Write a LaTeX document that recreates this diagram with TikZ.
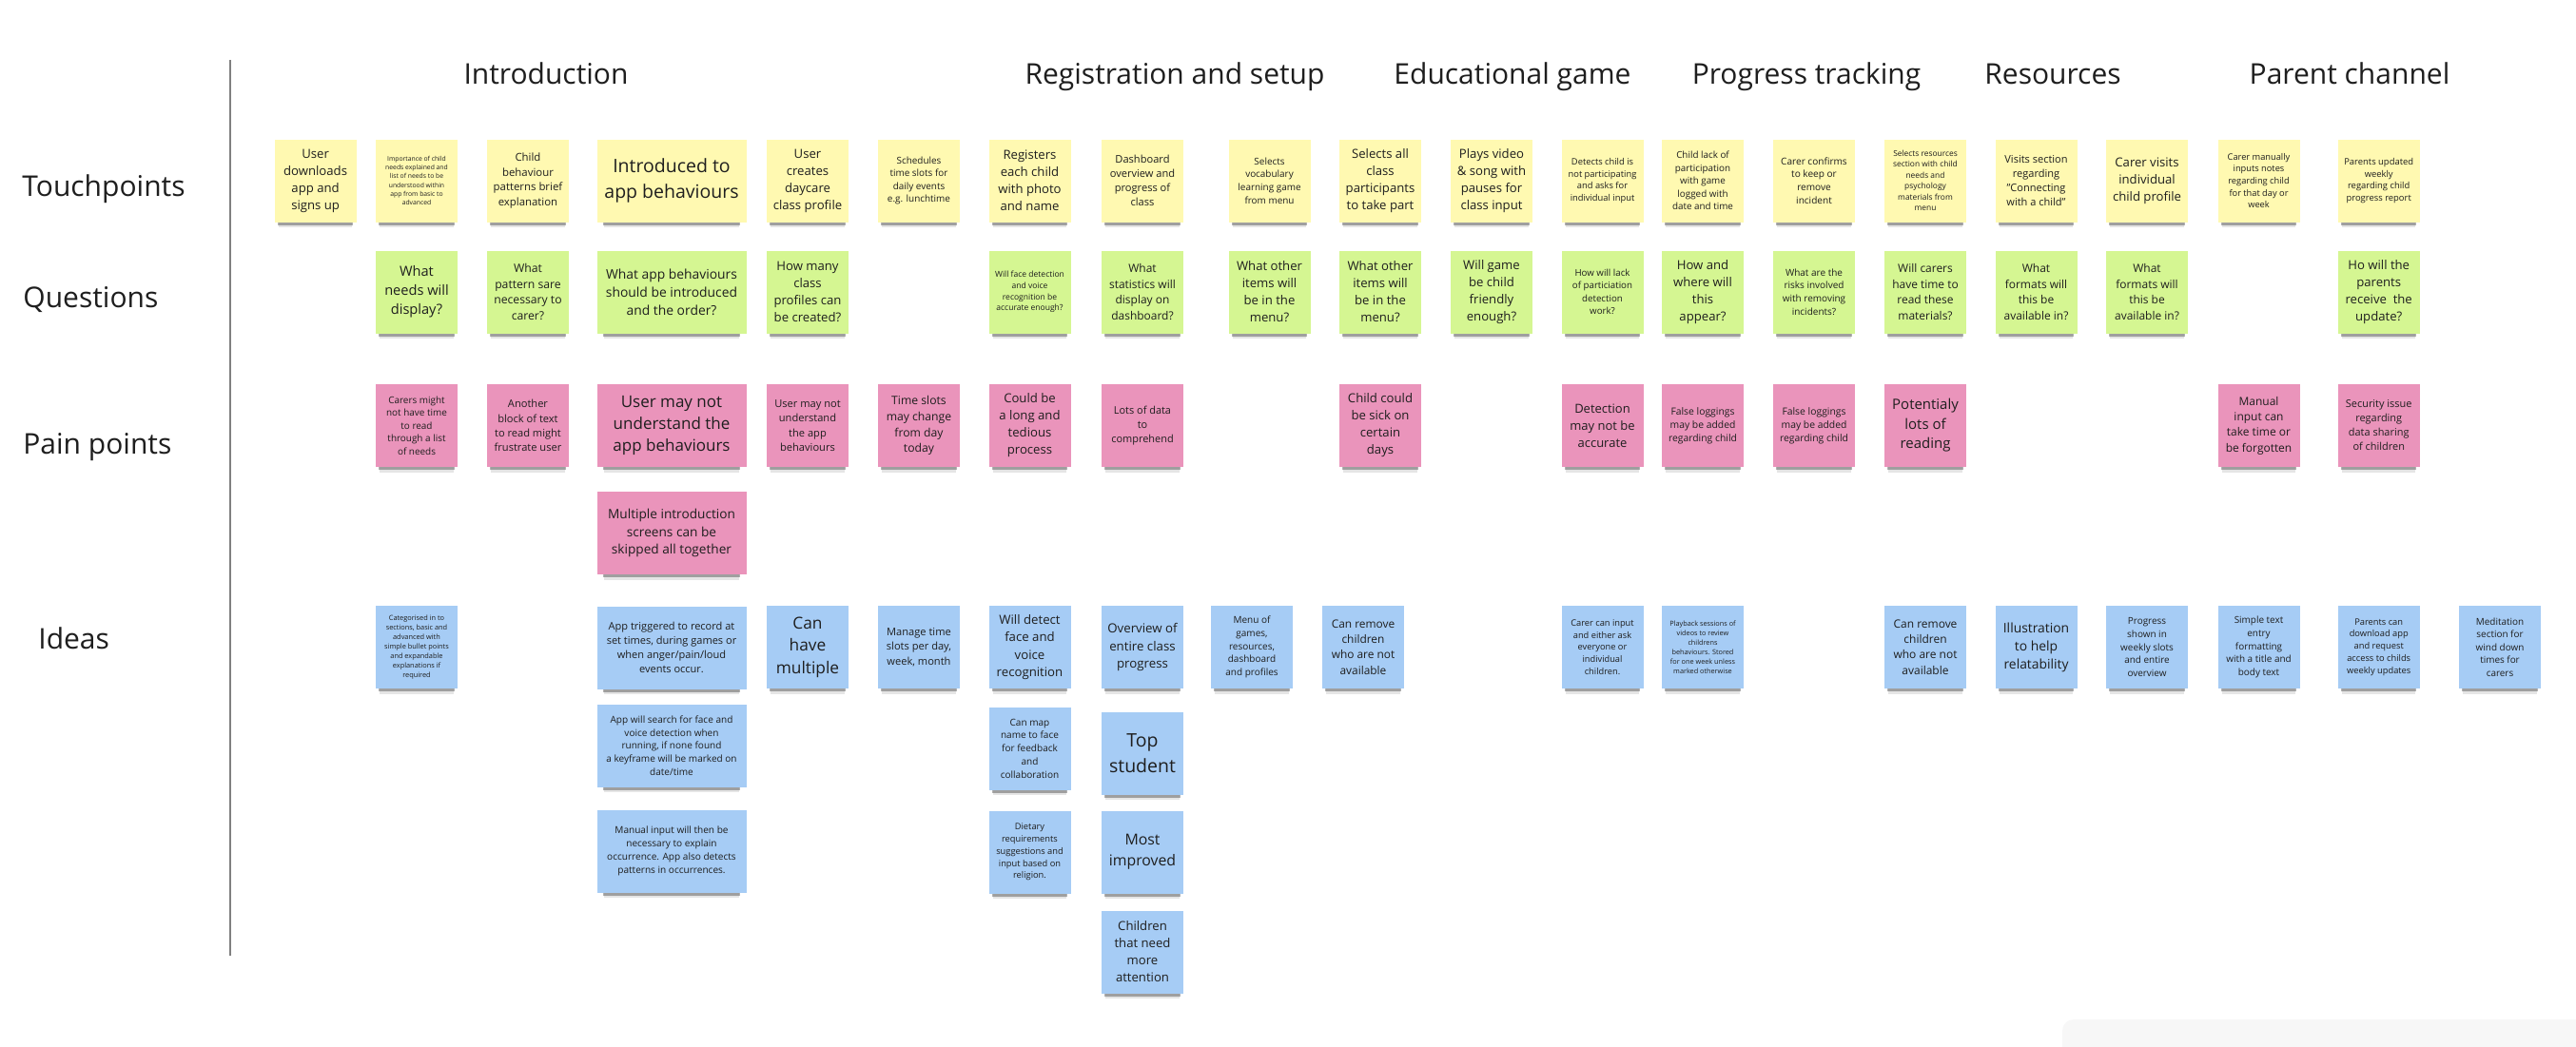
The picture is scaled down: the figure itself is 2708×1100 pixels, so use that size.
\documentclass[tikz,border=0pt]{standalone}
\usepackage{fontspec}
\setmainfont{Open Sans}
\usetikzlibrary{shadows}
\definecolor{stY}{HTML}{FFF9B1}
\definecolor{stG}{HTML}{D5F692}
\definecolor{stP}{HTML}{EA94BB}
\definecolor{stB}{HTML}{A6CCF5}
\definecolor{ink}{HTML}{1E1E1E}
\newdimen\fsA \newdimen\fsB
\newcommand\fs[1]{\fsB=#1pt \fsB=0.5\fsB \fsA=0.73\fsB \fontsize{\the\fsA}{\the\fsB}\selectfont}
\tikzset{
 note/.style={minimum width=43pt, minimum height=43.5pt, inner sep=1pt, align=center, text=ink,
   general shadow={fill=black, opacity=.10, shadow scale=.9, shadow yshift=-5.5pt},
   general shadow={fill=black, opacity=.30, shadow scale=.92, shadow yshift=-3.6pt}},
 wide/.style={minimum width=78.5pt},
 ynote/.style={note, fill=stY},
 gnote/.style={note, fill=stG},
 pnote/.style={note, fill=stP},
 bnote/.style={note, fill=stB},
 hdr/.style={anchor=base, inner sep=0pt, font=\fontsize{15pt}{18pt}\selectfont, text=ink},
 lbl/.style={anchor=base west, inner sep=0pt, font=\fontsize{15pt}{18pt}\selectfont, text=ink}
}
\begin{document}
\begin{tikzpicture}[x=0.5pt, y=-0.5pt]
\useasboundingbox (0,0) rectangle (2708,1100);
\fill[white] (0,0) rectangle (2708,1100);
\fill[black!3, rounded corners=6pt] (2168,1072) rectangle (2760,1140);

% headers
\node[hdr] (hIntro) at (574,88) {Introduction};
\node[hdr] (hReg) at (1235,88) {Registration and setup};
\node[hdr] (hEdu) at (1590,88) {Educational game};
\node[hdr] (hProg) at (1899,88) {Progress tracking};
\node[hdr] (hRes) at (2158,88) {Resources};
\node[hdr] (hPar) at (2470,88) {Parent channel};

% row labels
\node[lbl] (lTouch) at (23,206) {Touchpoints};
\node[lbl] (lQues) at (24,323) {Questions};
\node[lbl] (lPain) at (24,477) {Pain points};
\node[lbl] (lIdea) at (40,682) {Ideas};
\coordinate (vTop) at (242,63);
\coordinate (vBot) at (242,1005);
\draw[line width=1pt, black!50] (vTop) -- (vBot);

% touchpoints
\node[ynote, font=\fs{18}] (t1) at (331.6,190) {User\\downloads\\app and\\signs up};
\node[ynote, font=\fs{9.3}] (t2) at (438,190) {Importance of child\\needs explained and\\list of needs to be\\understood within\\app from basic to\\advanced};
\node[ynote, font=\fs{15.6}] (t3) at (555,190) {Child\\behaviour\\patterns brief\\explanation};
\node[ynote, wide, font=\fs{26.7}] (t4) at (706,190) {Introduced to\\app behaviours};
\node[ynote, font=\fs{18}] (t5) at (849,190) {User\\creates\\daycare\\class profile};
\node[ynote, font=\fs{13.6}] (t6) at (966,190) {Schedules\\time slots for\\daily events\\e.g. lunchtime};
\node[ynote, font=\fs{18}] (t7) at (1082.5,190) {Registers\\each child\\with photo\\and name};
\node[ynote, font=\fs{15.2}] (t8) at (1201,190) {Dashboard\\overview and\\progress of\\class};
\node[ynote, font=\fs{13.6}] (t9) at (1334.5,190) {Selects\\vocabulary\\learning game\\from menu};
\node[ynote, font=\fs{18}] (t10) at (1451,190) {Selects all\\class\\participants\\to take part};
\node[ynote, font=\fs{18}] (t11) at (1568,190) {Plays video\\\& song with\\pauses for\\class input};
\node[ynote, font=\fs{12.8}] (t12) at (1684.5,190) {Detects child is\\not participating\\and asks for\\individual input};
\node[ynote, font=\fs{13.5}] (t13) at (1790,190) {Child lack of\\participation\\with game\\logged with\\date and time};
\node[ynote, font=\fs{13.8}] (t14) at (1907,190) {Carer confirms\\to keep or\\remove\\incident};
\node[ynote, font=\fs{11.5}] (t15) at (2024,190) {Selects resources\\section with child\\needs and\\psychology\\materials from\\menu};
\node[ynote, font=\fs{15.1}] (t16) at (2140.5,190) {Visits section\\regarding\\"Connecting\\with a child"};
\node[ynote, font=\fs{18}] (t17) at (2257,190) {Carer visits\\individual\\child profile};
\node[ynote, font=\fs{12.7}] (t18) at (2374.5,190) {Carer manually\\inputs notes\\regarding child\\for that day or\\week};
\node[ynote, font=\fs{12.9}] (t19) at (2500.7,190) {Parents updated\\weekly\\regarding child\\progress report};

% questions
\node[gnote, font=\fs{20}] (q1) at (438,307) {What\\needs will\\display?};
\node[gnote, font=\fs{16.7}] (q2) at (555,307) {What\\pattern sare\\necessary to\\carer?};
\node[gnote, wide, font=\fs{19}] (q3) at (706,307) {What app behaviours\\should be introduced\\and the order?};
\node[gnote, font=\fs{18}] (q4) at (849,307) {How many\\class\\profiles can\\be created?};
\node[gnote, font=\fs{11.7}] (q5) at (1082.5,307) {Will face detection\\and voice\\recognition be\\accurate enough?};
\node[gnote, font=\fs{16.4}] (q6) at (1201,307) {What\\statistics will\\display on\\dashboard?};
\node[gnote, font=\fs{18}] (q7) at (1334.5,307) {What other\\items will\\be in the\\menu?};
\node[gnote, font=\fs{18}] (q8) at (1451,307) {What other\\items will\\be in the\\menu?};
\node[gnote, font=\fs{18}] (q9) at (1568,307) {Will game\\be child\\friendly\\enough?};
\node[gnote, font=\fs{13.3}] (q10) at (1684.5,307) {How will lack\\of particiation\\detection\\work?};
\node[gnote, font=\fs{18}] (q11) at (1790,307) {How and\\where will\\this\\appear?};
\node[gnote, font=\fs{13.7}] (q12) at (1907,307) {What are the\\risks involved\\with removing\\incidents?};
\node[gnote, font=\fs{16.4}] (q13) at (2024,307) {Will carers\\have time to\\read these\\materials?};
\node[gnote, font=\fs{16.4}] (q14) at (2140.5,307) {What\\formats will\\this be\\available in?};
\node[gnote, font=\fs{16.4}] (q15) at (2257,307) {What\\formats will\\this be\\available in?};
\node[gnote, font=\fs{18}] (q16) at (2500.7,307) {Ho will the\\parents\\receive\ \ the\\update?};

% pain points
\node[pnote, font=\fs{13.6}] (p1) at (438,447.5) {Carers might\\not have time\\to read\\through a list\\of needs};
\node[pnote, font=\fs{15.2}] (p2) at (555,447.5) {Another\\block of text\\to read might\\frustrate user};
\node[pnote, wide, font=\fs{23.3}] (p3) at (706,447.5) {User may not\\understand the\\app behaviours};
\node[pnote, font=\fs{15.2}] (p4) at (849,447.5) {User may not\\understand\\the app\\behaviours};
\node[pnote, font=\fs{16.7}] (p5) at (966,447.5) {Time slots\\may change\\from day\\today};
\node[pnote, font=\fs{18}] (p6) at (1082.5,447.5) {Could be\\a long and\\tedious\\process};
\node[pnote, font=\fs{15}] (p7) at (1201,447.5) {Lots of data\\to\\comprehend};
\node[pnote, font=\fs{18}] (p8) at (1451,447.5) {Child could\\be sick on\\certain\\days};
\node[pnote, font=\fs{17.8}] (p9) at (1684.5,447.5) {Detection\\may not be\\accurate};
\node[pnote, font=\fs{14.2}] (p10) at (1790,447.5) {False loggings\\may be added\\regarding child};
\node[pnote, font=\fs{14.2}] (p11) at (1907,447.5) {False loggings\\may be added\\regarding child};
\node[pnote, font=\fs{20.5}] (p12) at (2024,447.5) {Potentialy\\lots of\\reading};
\node[pnote, font=\fs{16.4}] (p13) at (2374.5,447.5) {Manual\\input can\\take time or\\be forgotten};
\node[pnote, font=\fs{15}] (p14) at (2500.7,447.5) {Security issue\\regarding\\data sharing\\of children};
\node[pnote, wide, font=\fs{18.7}] (p15) at (706,560.5) {Multiple introduction\\screens can be\\skipped all together};

% ideas
\node[bnote, font=\fs{10.1}] (i1) at (438,680.5) {Categorised in to\\sections, basic and\\advanced with\\simple bullet points\\and expandable\\explanations if\\required};
\node[bnote, wide, font=\fs{15.1}] (i2) at (706,681) {App triggered to record at\\set times, during games or\\when anger/pain/loud\\events occur.};
\node[bnote, font=\fs{23.7}] (i3) at (849,680.5) {Can\\have\\multiple};
\node[bnote, font=\fs{15.2}] (i4) at (966,680.5) {Manage time\\slots per day,\\week, month};
\node[bnote, font=\fs{18.1}] (i5) at (1082.5,680.5) {Will detect\\face and\\voice\\recognition};
\node[bnote, font=\fs{18.2}] (i6) at (1201,680.5) {Overview of\\entire class\\progress};
\node[bnote, font=\fs{13.7}] (i7) at (1316,680.5) {Menu of\\games,\\resources,\\dashboard\\and profiles};
\node[bnote, font=\fs{16.3}] (i8) at (1433,680.5) {Can remove\\children\\who are not\\available};
\node[bnote, font=\fs{12.7}] (i9) at (1684.5,680.5) {Carer can input\\and either ask\\everyone or\\individual\\children.};
\node[bnote, font=\fs{10}] (i10) at (1790,680.5) {Playback sessions of\\videos to review\\childrens\\behaviours. Stored\\for one week unless\\marked otherwise};
\node[bnote, font=\fs{16.4}] (i11) at (2024,680.5) {Can remove\\children\\who are not\\available};
\node[bnote, font=\fs{19}] (i12) at (2140.5,680.5) {Illustration\\to help\\relatability};
\node[bnote, font=\fs{13.6}] (i13) at (2257,680.5) {Progress\\shown in\\weekly slots\\and entire\\overview};
\node[bnote, font=\fs{13.6}] (i14) at (2374.5,680.5) {Simple text\\entry\\formatting\\with a title and\\body text};
\node[bnote, font=\fs{12.75}] (i15) at (2500.7,680.5) {Parents can\\download app\\and request\\access to childs\\weekly updates};
\node[bnote, font=\fs{13.6}] (i16) at (2628,680.5) {Meditation\\section for\\wind down\\times for\\carers};
\node[bnote, wide, font=\fs{13.75}] (i17) at (706,784) {App will search for face and\\voice detection when\\running, if none found\\a keyframe will be marked on\\date/time};
\node[bnote, wide, font=\fs{13.8}] (i18) at (706,895) {Manual input will then be\\necessary to explain\\occurrence. App also detects\\patterns in occurrences.};
\node[bnote, font=\fs{13.75}] (i19) at (1082.5,787) {Can map\\name to face\\for feedback\\and\\collaboration};
\node[bnote, font=\fs{26.7}] (i20) at (1201,792) {Top\\student};
\node[bnote, font=\fs{12.75}] (i21) at (1082.5,896) {Dietary\\requirements\\suggestions and\\input based on\\religion.};
\node[bnote, font=\fs{21.7}] (i22) at (1201,896) {Most\\improved};
\node[bnote, font=\fs{18}] (i23) at (1201,1001) {Children\\that need\\more\\attention};
\end{tikzpicture}
\end{document}
